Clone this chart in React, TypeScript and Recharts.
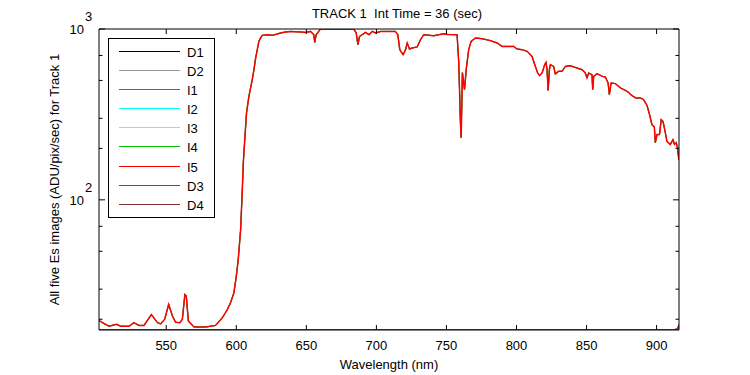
import { LineChart, Line, XAxis, YAxis, Legend, Label } from 'recharts'

// Es spectrum, Track 1 — all five Es images plus darks, log y axis

const wavelengths = [
  502.0, 504.4, 509.1, 514.6, 517.5, 523.4, 526.9, 530.5, 534.1, 539.4,
  543.7, 546.0, 548.9, 551.7, 554.4, 556.7, 559.8, 561.5, 563.3, 564.3,
  565.8, 569.8, 578.1, 585.2, 590.0, 593.6, 595.9, 598.3, 600.0, 601.4,
  603.1, 603.6, 604.3, 605.0, 605.9, 607.3, 609.0, 611.4, 612.6, 613.8,
  615.0, 616.1, 617.3, 618.5, 622.1, 625.7, 629.2, 631.6, 635.2, 638.7,
  645.9, 649.4, 653.0, 655.3, 656.0, 657.0, 660.1, 667.2, 673.2, 683.9,
  685.6, 686.8, 688.0, 689.9, 692.3, 694.7, 697.1, 699.4, 703.0, 713.6,
  715.3, 716.7, 719.1, 720.8, 722.0, 723.6, 725.5, 729.1, 731.5, 733.8,
  741.0, 748.1, 750.5, 757.6, 758.8, 760.0, 760.5, 761.4, 762.9, 764.1,
  765.9, 767.6, 770.7, 775.5, 781.4, 786.2, 789.7, 794.4, 798.0, 800.4,
  804.0, 807.6, 811.1, 813.5, 815.1, 816.5, 818.3, 820.1, 821.1, 821.8,
  822.6, 823.5, 824.2, 826.5, 827.7, 830.1, 832.5, 834.9, 838.4, 843.2,
  846.8, 849.1, 850.3, 851.5, 853.9, 854.4, 855.1, 857.5, 861.3, 863.4,
  865.4, 866.3, 867.5, 870.6, 874.2, 877.7, 880.0, 881.5, 885.0, 888.4,
  890.7, 893.2, 895.0, 896.7, 898.4, 899.1, 900.3, 902.1, 903.3, 904.6,
  906.2, 907.4, 909.8, 911.7, 912.8, 914.0, 914.9, 915.9,
]

// ADU/pix/sec, the five light images overlap almost exactly
const esCounts = [
  19.7, 19.1, 18.2, 18.7, 18.2, 18.2, 19.1, 18.4, 18.4, 21.3,
  19.1, 18.8, 20.0, 24.4, 20.9, 19.2, 19.1, 20.0, 27.9, 27.3,
  19.5, 18.0, 18.0, 18.4, 20.4, 22.8, 25.0, 28.6, 35.7, 44.8,
  67.0, 83.9, 114.9, 164.5, 215.5, 322.6, 403.6, 505.4, 578, 676,
  757, 846, 886, 918, 926, 918, 935, 948, 961, 968,
  961, 955, 968, 926, 835, 926, 999, 1000, 1000, 1000,
  948, 809, 905, 926, 955, 926, 968, 948, 968, 968,
  926, 757, 707, 757, 828, 764, 774, 785, 866, 926,
  913, 939, 930, 926, 635, 283, 231, 555, 442, 578,
  757, 846, 886, 878, 855, 828, 791, 791, 791, 764,
  757, 740, 691, 604, 553, 533, 553, 618, 638, 578,
  437, 578, 618, 604, 546, 565, 565, 604, 610, 591,
  578, 553, 517, 553, 540, 442, 528, 548, 528, 524,
  483, 413, 483, 479, 452, 437, 426, 413, 395, 395,
  386, 356, 315, 275, 267, 216, 241, 241, 295, 288,
  248, 220, 211, 225, 211, 216, 202, 172,
]

// dark images sit on the bottom of the axis
const darkWavelengths = [502, 650, 800, 912, 915, 916]
const d1Counts = [17.3, 17.3, 17.3, 17.3, 17.3, 17.3]
const d2Counts = [17.3, 17.3, 17.3, 17.3, 17.3, 17.3]
const d3Counts = [17.3, 17.3, 17.3, 17.3, 17.5, 18.4]
const d4Counts = [17.3, 17.3, 17.3, 17.3, 17.6, 18.6]

const xTicks = [550, 600, 650, 700, 750, 800, 850, 900]
const yTicks = [20, 30, 40, 50, 60, 70, 80, 90, 100, 200, 300, 400, 500, 600, 700, 800, 900, 1000]

const spectrum = wavelengths.map((wl, i) => ({
  wl,
  I1: esCounts[i],
  I2: esCounts[i],
  I3: esCounts[i],
  I4: esCounts[i],
  I5: esCounts[i],
}))

const darks = darkWavelengths.map((wl, i) => ({
  wl,
  D1: d1Counts[i],
  D2: d2Counts[i],
  D3: d3Counts[i],
  D4: d4Counts[i],
}))

const FONT = "'Liberation Sans', Arial, sans-serif"
const textStyle = { fontFamily: FONT, fontSize: 13, fill: '#000' }

const series = [
  { key: 'D1', color: '#000000', dark: true },
  { key: 'D2', color: '#999999', dark: true },
  { key: 'I1', color: '#1f6fd6', dark: false },
  { key: 'I2', color: '#00ffff', dark: false },
  { key: 'I3', color: '#90ee90', dark: false },
  { key: 'I4', color: '#00c000', dark: false },
  { key: 'I5', color: '#ff0000', dark: false },
  { key: 'D3', color: '#804040', dark: true },
  { key: 'D4', color: '#853535', dark: true },
]

const isMajor = (v: number) => v === 100 || v === 1000

function LeftTick({ x, y, payload }: any) {
  const v = payload.value
  const major = isMajor(v)
  return (
    <g>
      <line x1={x} x2={x + (major ? 6 : 3.5)} y1={y} y2={y} stroke="#000" />
      {major && (
        <>
          <text x={x - 15} y={y + 5} textAnchor="end" style={textStyle}>10</text>
          <text x={x - 14} y={y - 8} textAnchor="start" style={textStyle}>
            {Math.round(Math.log10(v))}
          </text>
        </>
      )}
    </g>
  )
}

function RightTick({ x, y, payload }: any) {
  const major = isMajor(payload.value)
  return <line x1={x} x2={x - (major ? 6 : 3.5)} y1={y} y2={y} stroke="#000" />
}

function BottomTick({ x, y, payload }: any) {
  return (
    <g>
      <line x1={x} x2={x} y1={y} y2={y - 5} stroke="#000" />
      <text x={x} y={y + 20} textAnchor="middle" style={textStyle}>{payload.value}</text>
    </g>
  )
}

function TopTick({ x, y }: any) {
  return <line x1={x} x2={x} y1={y} y2={y + 5} stroke="#000" />
}

function LegendBox({ payload }: any) {
  const items = series
    .map((s) => (payload || []).find((p: any) => p.value === s.key))
    .filter(Boolean)
  return (
    <svg width={107} height={180} style={{ display: 'block' }}>
      <rect x={0.5} y={0.5} width={106} height={179} fill="#fff" stroke="#000" shapeRendering="crispEdges" />
      {items.map((p: any, i: number) => {
        const cy = Math.round(12.7 + i * 19.15) + 0.5
        return (
          <g key={p.value}>
            <line x1={11} x2={72} y1={cy} y2={cy} stroke={p.color} strokeWidth={1} shapeRendering="crispEdges" />
            <text x={79} y={cy + 5} style={textStyle}>{p.value}</text>
          </g>
        )
      })}
    </svg>
  )
}

export default function App() {
  return (
    <div style={{ position: 'absolute', left: 0, top: 0, width: 750, height: 375, background: '#fff' }}>
      <LineChart
        width={750}
        height={375}
        data={spectrum}
        margin={{ top: 28, right: 70, bottom: 0, left: 0 }}
      >
        <XAxis
          dataKey="wl"
          type="number"
          domain={[502, 916]}
          allowDataOverflow
          ticks={xTicks}
          tick={<BottomTick />}
          tickSize={0}
          tickMargin={0}
          tickLine={false}
          axisLine={{ stroke: '#000' }}
          height={45}
        >
          <Label
            content={({ viewBox }: any) => (
              <text x={viewBox.x + viewBox.width / 2} y={viewBox.y + 39} textAnchor="middle" style={textStyle}>
                Wavelength (nm)
              </text>
            )}
          />
        </XAxis>
        <XAxis
          xAxisId="top"
          orientation="top"
          dataKey="wl"
          type="number"
          domain={[502, 916]}
          allowDataOverflow
          ticks={xTicks}
          tick={<TopTick />}
          tickSize={0}
          tickMargin={0}
          tickLine={false}
          axisLine={{ stroke: '#000' }}
          height={1}
        >
          <Label
            content={({ viewBox }: any) => (
              <text x={viewBox.x + viewBox.width / 2 + 8} y={18} textAnchor="middle" style={textStyle}>
                {'TRACK 1\u00a0 Int Time = 36 (sec)'}
              </text>
            )}
          />
        </XAxis>
        <YAxis
          scale="log"
          domain={[17.3, 1000]}
          allowDataOverflow
          ticks={yTicks}
          tick={<LeftTick />}
          tickSize={0}
          tickMargin={0}
          tickLine={false}
          axisLine={{ stroke: '#000' }}
          width={99}
        >
          <Label
            content={({ viewBox }: any) => {
              const cx = 58.5
              const cy = viewBox.y + viewBox.height / 2
              return (
                <text x={cx} y={cy} textAnchor="middle" transform={`rotate(-90 ${cx} ${cy})`} style={textStyle}>
                  All five Es images (ADU/pix/sec) for Track 1
                </text>
              )
            }}
          />
        </YAxis>
        <YAxis
          yAxisId="right"
          orientation="right"
          scale="log"
          domain={[17.3, 1000]}
          allowDataOverflow
          ticks={yTicks}
          tick={<RightTick />}
          tickSize={0}
          tickMargin={0}
          tickLine={false}
          axisLine={{ stroke: '#000' }}
          width={1}
        />
        <Legend
          layout="vertical"
          align="center"
          verticalAlign="middle"
          content={<LegendBox />}
          wrapperStyle={{ left: 108, top: 38, width: 107, height: 180 }}
        />
        {series.map((s) => {
          // I1..I4 are tied to the mirrored top/right axes (same domains) so the frame draws
          const mirrored = !s.dark && s.key !== 'I5'
          return (
            <Line
              key={s.key}
              data={s.dark ? darks : undefined}
              dataKey={s.key}
              name={s.key}
              xAxisId={mirrored ? 'top' : 0}
              yAxisId={mirrored ? 'right' : 0}
              stroke={s.color}
              strokeWidth={s.key === 'I5' ? 1.5 : s.dark ? 1.5 : 1}
              dot={false}
              activeDot={false}
              type="linear"
              isAnimationActive={false}
            />
          )
        })}
      </LineChart>
    </div>
  )
}
